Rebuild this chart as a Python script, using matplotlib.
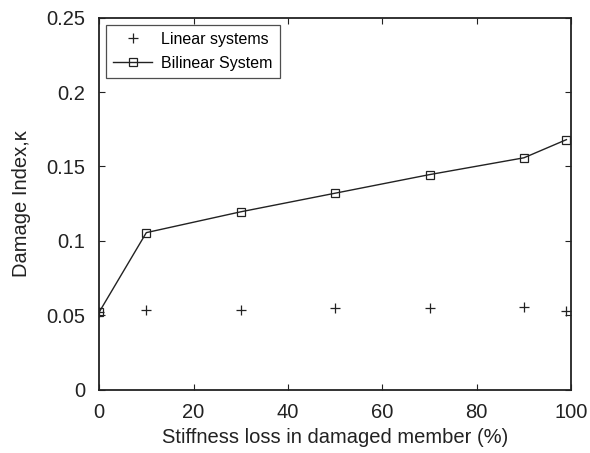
import matplotlib
matplotlib.use("Agg")
import matplotlib.pyplot as plt

plt.rcParams['font.family'] = ['Liberation Sans', 'DejaVu Sans']

# stiffness loss (%)
stiff_loss = [0, 10, 30, 50, 70, 90, 99]
linear_k = [0.052, 0.0535, 0.0535, 0.0548, 0.0548, 0.0555, 0.053]
bilinear_k = [0.052, 0.1055, 0.1195, 0.132, 0.1445, 0.1558, 0.168]

fig = plt.figure(figsize=(5.9, 4.53), dpi=100)
ax = fig.add_axes([0.168, 0.14, 0.8, 0.821])

ax.plot(stiff_loss, linear_k, ls="none", marker="+", color="#222222",
        markersize=6.5, mew=0.9, label="Linear systems")
ax.plot(stiff_loss, bilinear_k, ls="-", lw=1.0, marker="s", color="#222222",
        markersize=5.5, mfc="none", mew=0.9, label="Bilinear System")

ax.set_xlim(0, 100)
ax.set_ylim(0, 0.25)
ax.set_xticks([0, 20, 40, 60, 80, 100])
ax.set_yticks([0, 0.05, 0.1, 0.15, 0.2, 0.25])
ax.set_yticklabels(["0", "0.05", "0.1", "0.15", "0.2", "0.25"])
ax.tick_params(direction="in", top=True, right=True, labelsize=14.5,
               length=4, width=0.8, colors="#222222")
ax.tick_params(axis="x", pad=10)
ax.tick_params(axis="y", pad=10)
for s in ax.spines.values():
    s.set_linewidth(1.3)
    s.set_color("#222222")

ax.set_xlabel("Stiffness loss in damaged member (%)", fontsize=14.5,
              color="#222222", labelpad=4)
ax.set_ylabel("Damage Index,κ", fontsize=14.5, color="#222222", labelpad=11)

leg = ax.legend(loc="upper left", fontsize=11.5, frameon=True, fancybox=False,
                edgecolor="#222222", borderaxespad=0.45, handlelength=2.4,
                borderpad=0.45, labelspacing=0.55, handletextpad=0.6)
leg.get_frame().set_linewidth(0.9)

fig.savefig("out.png", dpi=100)
